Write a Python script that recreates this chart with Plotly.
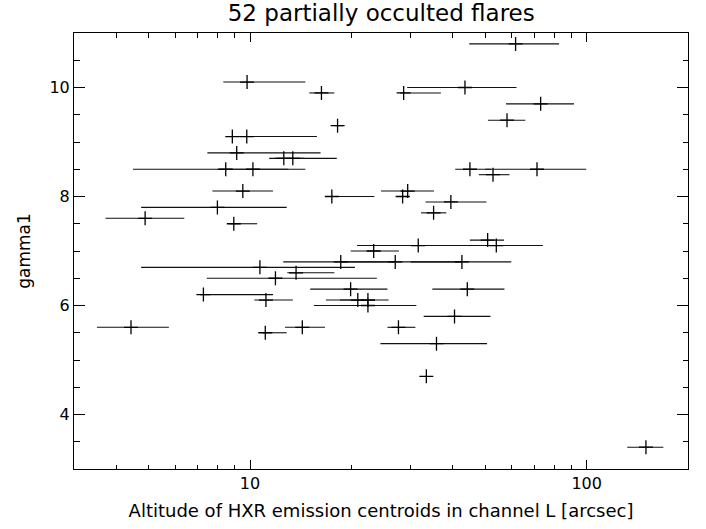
import plotly.graph_objects as go

# Altitude of HXR emission centroid (arcsec) and its lower/upper range, and gamma1
altitude = [9.8, 8.86, 9.78, 9.13, 12.6, 13.4, 8.47, 10.2, 9.52, 8.0,
            4.88, 8.95, 10.7, 13.7, 11.9, 7.27, 11.15, 4.43, 11.1, 39.5,
            35.1, 50.8, 31.6, 53.9, 23.3, 18.6, 27.0, 42.6, 19.9, 44.2,
            20.9, 22.4, 22.4, 40.5, 14.3, 27.6, 35.8, 33.4, 150.0, 61.5,
            43.5, 16.3, 28.6, 73.0, 58.0, 18.2, 45.0, 71.2, 52.7, 29.4,
            17.5, 28.4]
alt_lo = [8.33, 8.58, 9.3, 7.47, 11.4, 11.8, 4.49, 8.0, 7.73, 4.75,
          3.72, 8.68, 4.75, 12.9, 7.44, 7.1, 10.3, 3.51, 10.9, 33.2,
          32.2, 45.0, 20.8, 37.4, 19.9, 12.55, 18.6, 30.0, 15.1, 34.8,
          16.8, 18.5, 15.5, 32.8, 12.7, 25.6, 24.4, 33.4, 132.0, 44.8,
          29.3, 15.0, 27.9, 57.6, 50.9, 17.8, 40.7, 50.0, 47.8, 24.5,
          17.3, 27.2]
alt_hi = [14.6, 11.7, 15.8, 16.2, 14.5, 18.1, 13.0, 14.6, 11.7, 12.85,
          6.38, 10.5, 20.5, 17.8, 23.8, 11.7, 13.4, 5.74, 12.85, 50.4,
          38.3, 56.8, 44.0, 74.1, 27.7, 27.0, 42.6, 59.7, 25.6, 57.0,
          23.5, 25.8, 31.2, 51.8, 16.7, 31.0, 50.6, 33.4, 169.0, 82.8,
          61.9, 17.8, 36.9, 91.7, 65.7, 18.9, 52.0, 99.7, 59.0, 35.2,
          23.4, 29.8]
gamma1 = [10.1, 9.1, 9.1, 8.8, 8.7, 8.7, 8.5, 8.5, 8.1, 7.8,
          7.6, 7.5, 6.7, 6.6, 6.5, 6.2, 6.1, 5.6, 5.5, 7.9,
          7.7, 7.2, 7.1, 7.1, 7.0, 6.8, 6.8, 6.8, 6.3, 6.3,
          6.1, 6.1, 6.0, 5.8, 5.6, 5.6, 5.3, 4.7, 3.4, 10.8,
          10.0, 9.9, 9.9, 9.7, 9.4, 9.3, 8.5, 8.5, 8.4, 8.1,
          8.0, 8.0]

title_text = "52 partially occulted flares"
x_title = "Altitude of HXR emission centroids in channel L [arcsec]"
y_title = "gamma1"
x_major = [10, 100]
x_major_text = ["10", "100"]
x_minor = [3, 4, 5, 6, 7, 8, 9, 20, 30, 40, 50, 60, 70, 80, 90, 200]
y_major = [4, 6, 8, 10]

err_plus = [h - a for h, a in zip(alt_hi, altitude)]
err_minus = [a - l for a, l in zip(altitude, alt_lo)]

FONT = "DejaVu Sans"

fig = go.Figure()
fig.add_trace(go.Scatter(
    x=altitude, y=gamma1, mode="markers",
    marker=dict(symbol="cross-thin", size=10, line=dict(color="black", width=1.3), color="black"),
    error_x=dict(type="data", symmetric=False, array=err_plus, arrayminus=err_minus,
                 width=0, thickness=1.1, color="#111111"),
    showlegend=False,
))

fig.update_layout(
    width=706, height=529,
    margin=dict(l=74, r=18, t=33, b=60),
    paper_bgcolor="white", plot_bgcolor="white",
    font=dict(family=FONT, color="black", size=16),
    title=dict(text=title_text, x=0.54, xanchor="center", y=0.99, yanchor="top",
               font=dict(family=FONT, size=23, color="black")),
)
fig.update_xaxes(
    type="log", range=[0.47712, 2.30103],
    tickmode="array", tickvals=x_major, ticktext=x_major_text,
    ticks="inside", ticklen=9, tickwidth=1, tickcolor="black",
    minor=dict(tickmode="array", tickvals=x_minor, ticks="inside", ticklen=4.5,
               tickwidth=1, tickcolor="black", showgrid=False),
    showline=True, linecolor="black", linewidth=1, mirror="ticks",
    showgrid=False, zeroline=False,
    tickfont=dict(size=16),
    title=dict(text=x_title, font=dict(size=18), standoff=12),
)
fig.update_yaxes(
    range=[3, 11],
    tickmode="array", tickvals=y_major,
    ticks="inside", ticklen=11, tickwidth=1, tickcolor="black",
    minor=dict(dtick=0.5, ticks="inside", ticklen=5.5, tickwidth=1,
               tickcolor="black", showgrid=False),
    showline=True, linecolor="black", linewidth=1, mirror="ticks",
    showgrid=False, zeroline=False,
    tickfont=dict(size=16),
    title=dict(text=y_title, font=dict(size=17), standoff=14),
)

fig.write_html("out.html")
